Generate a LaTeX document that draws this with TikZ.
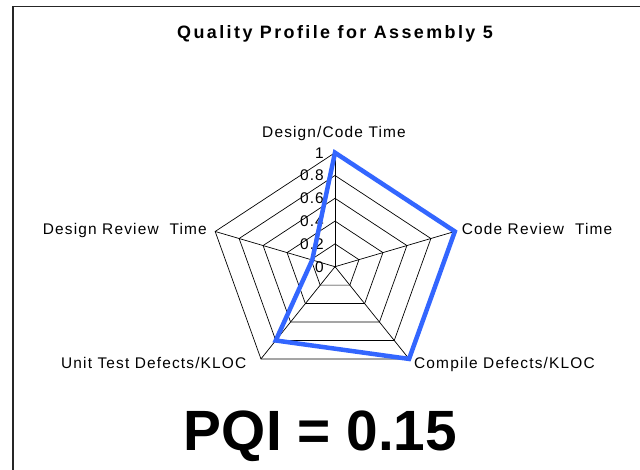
\documentclass[tikz,border=0pt]{standalone}
\usepackage{fontspec}
\setmainfont{Liberation Sans}
\newfontfamily\lblfont[LetterSpace=7.5]{Liberation Sans}
\newfontfamily\ttlfont[LetterSpace=13.5]{Liberation Sans}
\definecolor{serieblue}{RGB}{51,102,255}
\begin{document}
\begin{tikzpicture}[x=1bp,y=-1bp,
  gridline/.style={black, line width=0.7bp},
  series/.style={serieblue, line width=4.5bp, line join=miter},
  axislbl/.style={inner sep=0, font=\lblfont\fontsize{15.5}{18}\selectfont},
  ticklbl/.style={inner sep=0, anchor=east, font=\lblfont\fontsize{15.5}{18}\selectfont},
  framestyle/.style={black!85, line width=1.5bp}]
\useasboundingbox (0,0) rectangle (640,470);
\fill[white] (0,0) rectangle (640,470);
\coordinate (c) at (335,266.7);
\foreach \r in {1,...,5} {
  \foreach \a [count=\i] in {90,18,-54,-126,162} {
    \coordinate (v\r-\i) at ({335+126*\r/5*cos(\a)},{266.7-114*\r/5*sin(\a)});
  }
  \draw[gridline] (v\r-1) -- (v\r-2) -- (v\r-3) -- (v\r-4) -- (v\r-5) -- cycle;
}
\foreach \i in {1,...,5} \draw[gridline] (c) -- (v5-\i);
% tick labels
\foreach \r/\t in {0/0,1/0.2,2/0.4,3/0.6,4/0.8,5/1}
  \node[ticklbl] (t\r) at (324,{266.7-114*\r/5}) {\t};
% data series
\coordinate (d1) at (v5-1);
\coordinate (d2) at (v5-2);
\coordinate (d3) at (v5-3);
\coordinate (d4) at ({335+126*0.8*cos(-126)},{266.7-114*0.8*sin(-126)});
\coordinate (d5) at ({335+126*0.19*cos(162)},{266.7-114*0.19*sin(162)});
\draw[series] (d1) -- (d2) -- (d3) -- (d4) -- (d5) -- cycle;
% axis labels
\node[axislbl, anchor=base] (l1) at (334,137.3) {Design/Code Time};
\node[axislbl, anchor=base west] (l2) at (461.7,235) {Code Review\ \ Time};
\node[axislbl, anchor=base west] (l3) at (414,368.3) {Compile Defects/KLOC};
\node[axislbl, anchor=base west] (l4) at (61,368.3) {Unit Test Defects/KLOC};
\node[axislbl, anchor=base east] (l5) at (207,235) {Design Review\ \ Time};
% title and PQI
\node[font=\ttlfont\bfseries\fontsize{18}{21}\selectfont, inner sep=0, anchor=base] (title) at (335,38.3) {Quality Profile for Assembly 5};
\node[font=\bfseries\fontsize{57}{60}\selectfont, inner sep=0, anchor=base] (pqi) at (320.5,450) {PQI = 0.15};
% frame
\draw[framestyle] (13,470) -- (13,6.5) -- (640,6.5);
\end{tikzpicture}
\end{document}
